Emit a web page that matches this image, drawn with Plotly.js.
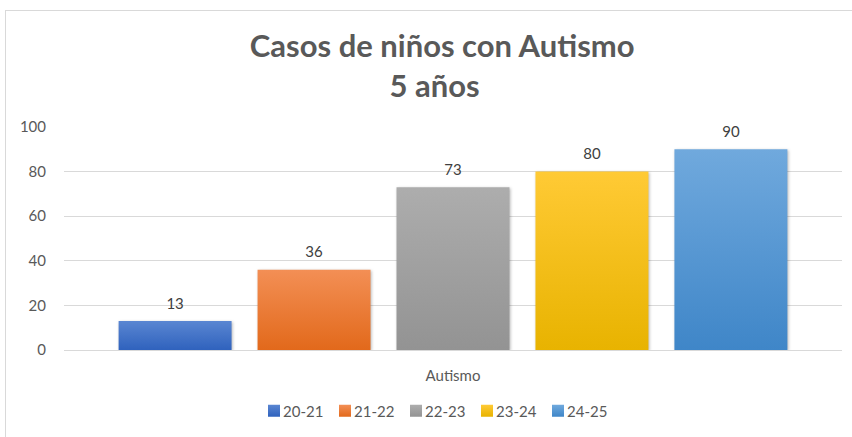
<!DOCTYPE html>
<html>
<head>
<meta charset="utf-8">
<script src="https://cdn.plot.ly/plotly-3.0.1.min.js"></script>
<style>
html,body{margin:0;padding:0;background:#fff;}
#wrap{position:relative;width:852px;height:437px;overflow:hidden;}
#chart{width:852px;height:437px;}
#frame{position:absolute;left:5px;top:10px;width:900px;height:500px;border-left:1px solid #d9d9d9;border-top:1px solid #d9d9d9;pointer-events:none;}
</style>
</head>
<body>
<div id="wrap"><div id="chart"></div><div id="frame"></div></div>
<script>
const category = ["Autismo"];
const seriesNames = ["20-21", "21-22", "22-23", "23-24", "24-25"];
const seriesValues = [13, 36, 73, 80, 90];
const seriesColors = ["#4472c4", "#ed7d31", "#a5a5a5", "#ffc000", "#5b9bd5"];
const yTicks = [0, 20, 40, 60, 80, 100];

const FONT = "Lato, 'Open Sans', sans-serif";

const traces = [];
seriesNames.forEach((name, i) => {
  traces.push({
    type: "bar",
    name: name,
    x: category,
    y: [seriesValues[i]],
    offsetgroup: String(i),
    marker: {color: seriesColors[i]},
    hoverinfo: "skip"
  });
});
seriesNames.forEach((name, i) => {
  traces.push({
    type: "scatter",
    mode: "markers+text",
    name: name,
    x: category,
    y: [seriesValues[i]],
    text: [String(seriesValues[i])],
    textposition: "top center",
    textfont: {family: FONT, size: 15, color: "#404040"},
    marker: {size: 12, color: "rgba(0,0,0,0)"},
    offsetgroup: String(i),
    showlegend: false,
    hoverinfo: "skip",
    cliponaxis: false
  });
});

const layout = {
  width: 852, height: 437,
  margin: {l: 64, r: 10, t: 127, b: 87},
  paper_bgcolor: "#fff", plot_bgcolor: "#fff",
  font: {family: FONT, color: "#595959"},
  title: {
    text: "<b>Casos de niños con Autismo<br>5 años&nbsp;&nbsp;</b>",
    font: {family: FONT, size: 31, color: "#595959"},
    x: 0.519, xanchor: "center",
    y: 1 - 57/437, yref: "container", yanchor: "top"
  },
  barmode: "group",
  bargap: 0.107,
  bargroupgap: 0.187,
  scattermode: "group",
  scattergap: 0.107,
  xaxis: {
    type: "category",
    showgrid: false, zeroline: false, showline: false,
    ticks: "", tickfont: {family: FONT, size: 15, color: "#595959"},
    ticklabelstandoff: 15,
    fixedrange: true
  },
  yaxis: {
    range: [0, 100], tickvals: yTicks,
    showgrid: true, gridcolor: "#d9d9d9", gridwidth: 1,
    zeroline: true, zerolinecolor: "#d9d9d9", zerolinewidth: 1,
    showline: false, ticks: "", ticklen: 0,
    ticklabelstandoff: 17,
    tickfont: {family: FONT, size: 15, color: "#595959"},
    fixedrange: true
  },
  legend: {
    orientation: "h", xref: "container", x: 254 / 852, xanchor: "left",
    y: 1 - 411/437, yref: "container", yanchor: "middle",
    font: {family: FONT, size: 15, color: "#595959"},
    itemwidth: 30, entrywidth: 26, traceorder: "normal"
  },
  showlegend: true
};

const gradStops = [
  ["#5a86d2", "#2f62bd"],
  ["#f38f55", "#e2691b"],
  ["#adadad", "#939393"],
  ["#ffca35", "#e8b300"],
  ["#70a9dd", "#3f86c8"]
];

Plotly.newPlot("chart", traces, layout, {displayModeBar: false, staticPlot: true}).then(gd => {
  const svg = gd.querySelector("svg.main-svg");
  let defs = svg.querySelector("defs");
  const NS = "http://www.w3.org/2000/svg";
  gradStops.forEach((st, i) => {
    const g = document.createElementNS(NS, "linearGradient");
    g.setAttribute("id", "bargrad" + i);
    g.setAttribute("x1", "0"); g.setAttribute("y1", "0");
    g.setAttribute("x2", "0"); g.setAttribute("y2", "1");
    [["0%", st[0]], ["100%", st[1]]].forEach(([o, c]) => {
      const s = document.createElementNS(NS, "stop");
      s.setAttribute("offset", o); s.setAttribute("stop-color", c);
      g.appendChild(s);
    });
    defs.appendChild(g);
  });
  gd.querySelectorAll(".barlayer .trace").forEach((t, i) => {
    t.querySelectorAll("path").forEach(p => {
      p.style.fill = "url(#bargrad" + i + ")";
      p.style.filter = "drop-shadow(1.5px 1.5px 1.5px rgba(0,0,0,0.28))";
    });
  });
  gd.querySelectorAll(".legend .traces").forEach((t, i) => {
    t.querySelectorAll(".legendpoints path").forEach(p => { p.style.fill = "url(#bargrad" + i + ")"; });
    const txt = t.querySelector("text.legendtext");
    if (txt) txt.setAttribute("x", "29");
  });
  const sb = gd.querySelector(".legend .scrollbox");
  if (sb) sb.removeAttribute("clip-path");
});
</script>
</body>
</html>
